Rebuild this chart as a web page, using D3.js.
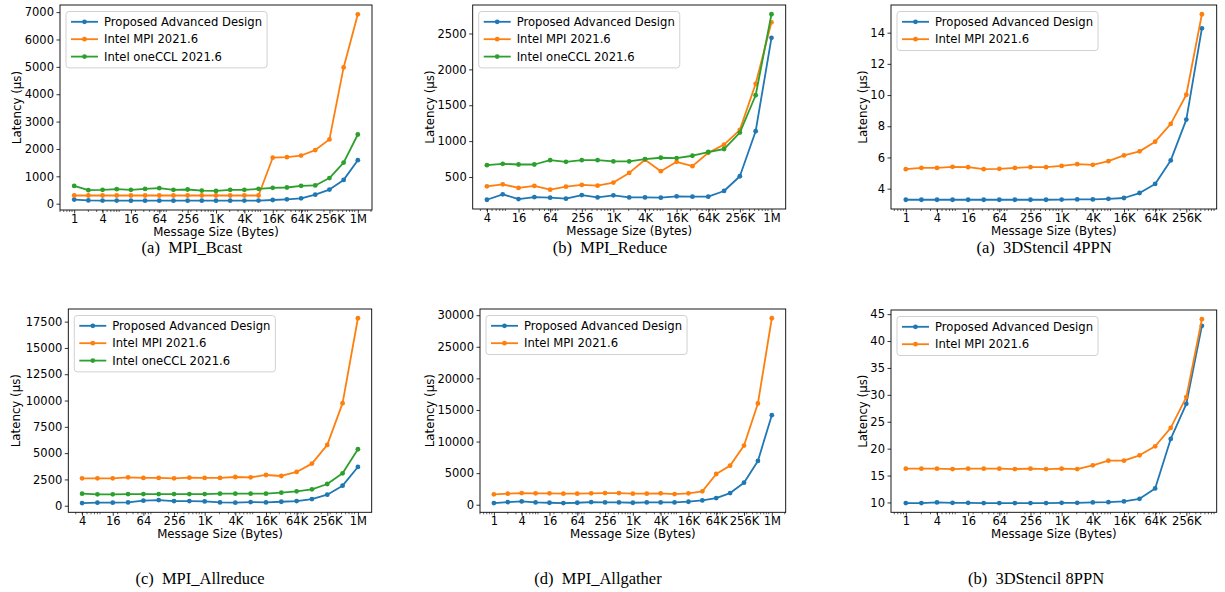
<!DOCTYPE html>
<html><head><meta charset="utf-8">
<script src="https://cdn.jsdelivr.net/npm/d3@7"></script>
<style>
html,body{margin:0;padding:0;background:#fff;}
svg{display:block;}
</style></head>
<body>
<svg id="chart" width="1225" height="592"></svg>
<script>
// ---------------- data ----------------
const seriesNames = ["Proposed Advanced Design", "Intel MPI 2021.6", "Intel oneCCL 2021.6"];
const xTickValues = [1, 4, 16, 64, 256, 1024, 4096, 16384, 65536, 262144, 1048576];
const xTickLabels = ["1", "4", "16", "64", "256", "1K", "4K", "16K", "64K", "256K", "1M"];

const sizes1to1M = [1,2,4,8,16,32,64,128,256,512,1024,2048,4096,8192,16384,32768,65536,131072,262144,524288,1048576];
const sizes4to1M = [4,8,16,32,64,128,256,512,1024,2048,4096,8192,16384,32768,65536,131072,262144,524288,1048576];
const sizes1to512K = [1,2,4,8,16,32,64,128,256,512,1024,2048,4096,8192,16384,32768,65536,131072,262144,524288];

// (a) MPI_Bcast
const bcastProposed = [150,120,115,115,110,110,110,110,110,110,110,110,115,115,135,160,195,330,515,870,1590];
const bcastIMPI     = [300,300,300,300,300,300,300,300,300,300,300,300,300,300,1680,1700,1760,1960,2350,4980,6920];
const bcastOneCCL   = [650,495,505,530,505,540,567,505,518,481,468,505,505,542,580,592,653,666,937,1504,2528];
const bcastYTicks = [0,1000,2000,3000,4000,5000,6000,7000];

// (b) MPI_Reduce
const reduceProposed = [183,258,192,220,211,197,248,215,244,215,215,211,230,225,225,305,510,1138,2440];
const reduceIMPI     = [370,398,347,375,323,365,389,379,422,557,740,581,712,651,838,951,1157,1799,2656];
const reduceOneCCL   = [665,684,674,674,735,712,735,735,717,717,749,768,763,796,848,890,1119,1639,2768];
const reduceYTicks = [500,1000,1500,2000,2500];

// (a) 3DStencil 4PPN
const st4Proposed = [3.29,3.29,3.29,3.29,3.29,3.29,3.29,3.29,3.29,3.29,3.30,3.31,3.31,3.35,3.40,3.72,4.30,5.81,8.43,14.28];
const st4IMPI     = [5.25,5.33,5.33,5.40,5.38,5.25,5.27,5.33,5.38,5.38,5.46,5.57,5.53,5.76,6.13,6.39,7.01,8.15,10.02,15.18];
const st4YTicks = [4,6,8,10,12,14];

// (c) MPI_Allreduce
const allredProposed = [254,286,286,318,477,540,445,445,413,318,286,350,318,380,445,635,1048,1906,3685];
const allredIMPI     = [2605,2605,2605,2700,2640,2640,2605,2670,2640,2640,2730,2700,2923,2828,3209,4003,5782,9753,17823];
const allredOneCCL   = [1144,1080,1080,1112,1112,1112,1112,1112,1112,1144,1144,1144,1144,1239,1366,1557,2065,3082,5369];
const allredYTicks = [0,2500,5000,7500,10000,12500,15000,17500];

// (d) MPI_Allgather
const agProposed = [265,423,529,370,317,265,317,423,370,370,317,370,370,370,476,688,1058,1852,3491,6930,14177];
const agIMPI     = [1640,1746,1852,1799,1799,1746,1746,1799,1852,1852,1746,1746,1799,1693,1799,2116,4867,6189,9363,16029,29518];
const agYTicks = [0,5000,10000,15000,20000,25000,30000];

// (b) 3DStencil 8PPN
const st8Proposed = [9.88,9.88,10.0,9.94,9.94,9.88,9.88,9.88,9.88,9.88,9.94,9.94,10.0,10.06,10.19,10.68,12.61,21.81,28.33,42.82];
const st8IMPI     = [16.28,16.28,16.28,16.21,16.28,16.28,16.28,16.21,16.28,16.21,16.28,16.21,16.90,17.77,17.77,18.76,20.44,23.86,29.58,44.06];
const st8YTicks = [10,15,20,25,30,35,40,45];

const captions = ["(a)\u00A0\u00A0MPI_Bcast", "(b)\u00A0\u00A0MPI_Reduce", "(a)\u00A0\u00A03DStencil 4PPN",
                  "(c)\u00A0\u00A0MPI_Allreduce", "(d)\u00A0\u00A0MPI_Allgather", "(b)\u00A0\u00A03DStencil 8PPN"];

// ---------------- layout / style ----------------
const colors = ["#1f77b4", "#ff7f0e", "#2ca02c"];
const FONT = "DejaVu Sans, sans-serif";
const panels = [
  {sizes: sizes1to1M, series: [bcastProposed, bcastIMPI, bcastOneCCL], yTicks: bcastYTicks,
   box: {l: 60, r: 372, t: 5, b: 210}, ylabDx: 43, cap: {x: 192, y: 253}},
  {sizes: sizes4to1M, series: [reduceProposed, reduceIMPI, reduceOneCCL], yTicks: reduceYTicks,
   box: {l: 472.7, r: 785.7, t: 5, b: 209}, ylabDx: 43, cap: {x: 610, y: 253}},
  {sizes: sizes1to512K, series: [st4Proposed, st4IMPI], yTicks: st4YTicks,
   box: {l: 891, r: 1216.7, t: 5, b: 209}, ylabDx: 28, cap: {x: 1044, y: 253}},
  {sizes: sizes4to1M, series: [allredProposed, allredIMPI, allredOneCCL], yTicks: allredYTicks,
   box: {l: 68.3, r: 371.7, t: 309, b: 512.3}, ylabDx: 52, cap: {x: 200, y: 584}},
  {sizes: sizes1to1M, series: [agProposed, agIMPI], yTicks: agYTicks,
   box: {l: 480, r: 785.7, t: 309, b: 512.3}, ylabDx: 50, cap: {x: 598, y: 584}},
  {sizes: sizes1to512K, series: [st8Proposed, st8IMPI], yTicks: st8YTicks,
   box: {l: 891, r: 1216.7, t: 310, b: 512.3}, ylabDx: 28, cap: {x: 1036, y: 584}}
];

const svg = d3.select("#chart");
svg.append("rect").attr("width", 1225).attr("height", 592).attr("fill", "#fff");

panels.forEach((p, pi) => {
  const B = p.box;
  const xmin = d3.min(p.sizes), xmax = d3.max(p.sizes);
  const nDec = Math.log2(xmax / xmin);
  const xPad = Math.pow(2, 0.05 * nDec);
  const x = d3.scaleLog().base(2).domain([xmin / xPad, xmax * xPad]).range([B.l, B.r]);

  const allVals = p.series.flat();
  const ymin = d3.min(allVals), ymax = d3.max(allVals);
  const yPad = (ymax - ymin) * 0.05;
  const y = d3.scaleLinear().domain([ymin - yPad, ymax + yPad]).range([B.b, B.t]);

  const g = svg.append("g");

  // minor ticks (log10 style subs 2..9)
  const [d0, d1] = x.domain();
  const minor = [];
  for (let e = -1; e <= 7; e++) {
    for (let k = 2; k <= 9; k++) {
      const v = k * Math.pow(10, e);
      if (v >= d0 && v <= d1) minor.push(v);
    }
  }
  g.append("g").selectAll("line").data(minor).join("line")
    .attr("x1", d => x(d)).attr("x2", d => x(d))
    .attr("y1", B.b).attr("y2", B.b + 2)
    .attr("stroke", "#000").attr("stroke-width", 0.6);

  // x axis
  const xt = xTickValues.filter(v => v >= d0 && v <= d1);
  const xAxis = d3.axisBottom(x).tickValues(xt)
    .tickFormat(v => xTickLabels[xTickValues.indexOf(v)])
    .tickSize(3.5).tickPadding(1.5);
  const xg = g.append("g").attr("transform", `translate(0,${B.b})`).call(xAxis);
  xg.select(".domain").remove();
  xg.selectAll("line").attr("stroke-width", 0.8);
  xg.selectAll("text").attr("font-family", FONT).attr("font-size", 11.5).attr("fill", "#000");

  // y axis
  const yAxis = d3.axisLeft(y).tickValues(p.yTicks).tickFormat(d3.format("d")).tickSize(3.5).tickPadding(2.5);
  const yg = g.append("g").attr("transform", `translate(${B.l},0)`).call(yAxis);
  yg.select(".domain").remove();
  yg.selectAll("line").attr("stroke-width", 0.8);
  yg.selectAll("text").attr("font-family", FONT).attr("font-size", 11.5).attr("fill", "#000");

  // series
  const line = d3.line().x(d => x(d[0])).y(d => y(d[1]));
  p.series.forEach((vals, si) => {
    const pts = p.sizes.map((s, i) => [s, vals[i]]);
    g.append("path").datum(pts).attr("d", line)
      .attr("fill", "none").attr("stroke", colors[si]).attr("stroke-width", 1.8)
      .attr("stroke-linejoin", "round");
    g.append("g").selectAll("circle").data(pts).join("circle")
      .attr("cx", d => x(d[0])).attr("cy", d => y(d[1])).attr("r", 2.4)
      .attr("fill", colors[si]);
  });

  // frame
  g.append("rect").attr("x", B.l).attr("y", B.t).attr("width", B.r - B.l).attr("height", B.b - B.t)
    .attr("fill", "none").attr("stroke", "#000").attr("stroke-width", 0.9);

  // legend
  const lg = g.append("g");
  const lx = B.l + 6, ly = B.t + 6.5;
  const rowH = 17.4;
  const nS = p.series.length;
  const boxRect = lg.append("rect").attr("x", lx).attr("y", ly).attr("rx", 3).attr("ry", 3)
    .attr("fill", "#fff").attr("fill-opacity", 0.8).attr("stroke", "#cccccc").attr("stroke-width", 0.9);
  let maxW = 0;
  for (let i = 0; i < nS; i++) {
    const cy = ly + 10.3 + i * rowH;
    lg.append("line").attr("x1", lx + 5).attr("x2", lx + 32).attr("y1", cy).attr("y2", cy)
      .attr("stroke", colors[i]).attr("stroke-width", 1.8);
    lg.append("circle").attr("cx", lx + 18.5).attr("cy", cy).attr("r", 2.4).attr("fill", colors[i]);
    const t = lg.append("text").attr("x", lx + 38).attr("y", cy).attr("dy", "0.36em")
      .attr("font-family", FONT).attr("font-size", 11.6).attr("fill", "#000").text(seriesNames[i]);
    maxW = Math.max(maxW, t.node().getComputedTextLength());
  }
  boxRect.attr("width", 38 + maxW + 5).attr("height", 10.3 + (nS - 1) * rowH + 11.3);

  // axis labels
  g.append("text").attr("x", (B.l + B.r) / 2).attr("y", B.b + 26)
    .attr("text-anchor", "middle").attr("font-family", FONT).attr("font-size", 11.8).attr("fill", "#000")
    .text("Message Size (Bytes)");
  g.append("text").attr("transform", `translate(${B.l - p.ylabDx},${(B.t + B.b) / 2}) rotate(-90)`)
    .attr("text-anchor", "middle").attr("dy", "0.35em")
    .attr("font-family", FONT).attr("font-size", 11.8).attr("fill", "#000")
    .text("Latency (\u00B5s)");

  // caption
  svg.append("text").attr("x", p.cap.x).attr("y", p.cap.y).attr("text-anchor", "middle")
    .attr("font-family", "Liberation Serif, Times New Roman, serif").attr("font-size", 16.5).attr("fill", "#000")
    .text(captions[pi]);
});
</script>
</body></html>
